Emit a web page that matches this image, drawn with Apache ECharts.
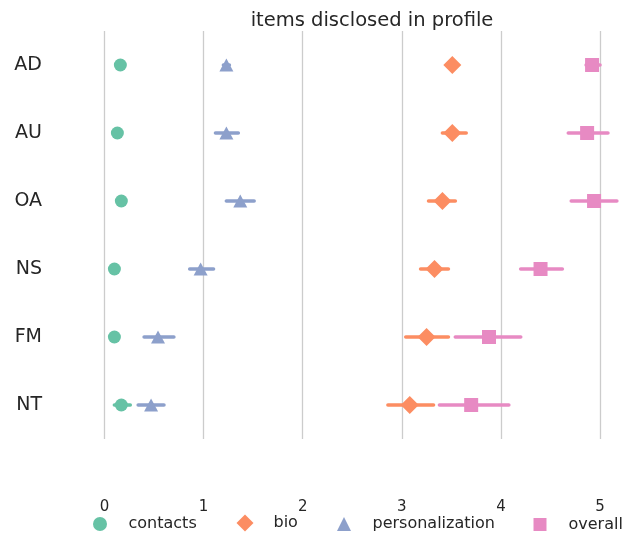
<!DOCTYPE html>
<html><head><meta charset="utf-8">
<script src="https://cdn.jsdelivr.net/npm/echarts@6/dist/echarts.min.js"></script>
<style>html,body{margin:0;padding:0;background:#fff}#c{width:631px;height:535px}</style>
</head><body><div id="c"></div>
<script>
const categories = ['AD','AU','OA','NS','FM','NT'];
const xTicks = [0,1,2,3,4,5];
const seriesNames = ['contacts','bio','personalization','overall'];
// point estimates
const contacts = [0.16, 0.13, 0.17, 0.10, 0.10, 0.17];
const bio = [3.51, 3.51, 3.41, 3.33, 3.25, 3.08];
const personalization = [1.23, 1.23, 1.37, 0.97, 0.54, 0.47];
const overall = [4.92, 4.87, 4.94, 4.40, 3.88, 3.70];
// confidence intervals [low, high]
const contactsCI = [[0.13,0.19],[0.10,0.16],[0.14,0.20],[0.08,0.12],[0.08,0.12],[0.10,0.26]];
const bioCI = [[3.47,3.55],[3.41,3.65],[3.27,3.54],[3.19,3.47],[3.04,3.47],[2.86,3.32]];
const personalizationCI = [[1.20,1.26],[1.12,1.35],[1.23,1.51],[0.86,1.10],[0.40,0.70],[0.34,0.60]];
const overallCI = [[4.86,5.00],[4.68,5.08],[4.71,5.17],[4.20,4.62],[3.54,4.20],[3.38,4.08]];

const colors = ['#66c2a5','#fc8d62','#8da0cb','#e78ac3'];
const symbols = ['circle','diamond','triangle','rect'];
const sizes = [13, [18,18], [14,13], 14];
const legendSizes = [14, 17, 14, 13];
const legendCenters = [100, 245, 344, 540];
const values = [contacts, bio, personalization, overall];
const cis = [contactsCI, bioCI, personalizationCI, overallCI];

const series = [];
seriesNames.forEach((name, k) => {
  series.push({
    type: 'custom', name: name + ' CI', z: 2, clip: false,
    encode: {x: [0,1], y: 2},
    data: cis[k].map((d, i) => [d[0], d[1], i]),
    renderItem: function (params, api) {
      const p1 = api.coord([api.value(0), api.value(2)]);
      const p2 = api.coord([api.value(1), api.value(2)]);
      return {type: 'line', shape: {x1: p1[0], y1: p1[1], x2: p2[0], y2: p2[1]},
        style: {stroke: colors[k], lineWidth: 3.6, lineCap: 'round'}};
    },
    silent: true
  });
  series.push({
    type: 'scatter', name: name, z: 3, clip: false,
    symbol: symbols[k], symbolSize: sizes[k],
    itemStyle: {color: colors[k], opacity: 1},
    data: values[k].map((v, i) => [v, i])
  });
});

const legends = seriesNames.map((name, k) => ({
  data: [{name: name, icon: symbols[k]}],
  padding: 0,
  left: legendCenters[k] - legendSizes[k]/2, top: 523 - legendSizes[k]/2,
  itemWidth: legendSizes[k], itemHeight: legendSizes[k],
  textStyle: {fontFamily: 'DejaVu Sans', fontSize: 16, color: '#262626',
    padding: [0, 0, 0, 23.5 - legendSizes[k]/2]},
  itemStyle: {color: colors[k]}
}));

const chart = echarts.init(document.getElementById('c'));
chart.setOption({
  animation: false,
  backgroundColor: '#fff',
  title: {text: 'items disclosed in profile', left: 367, top: 6, textAlign: 'center',
    textStyle: {fontFamily: 'DejaVu Sans', fontSize: 19.5, fontWeight: 'normal', color: '#262626'}},
  legend: legends,
  grid: {left: 104.5, right: 31, top: 31, bottom: 96},
  xAxis: {type: 'value', min: 0, max: 5, interval: 1,
    axisLine: {show: false}, axisTick: {show: false},
    splitLine: {show: true, lineStyle: {color: '#cccccc', width: 1.3}},
    axisLabel: {margin: 61, fontFamily: 'DejaVu Sans', fontSize: 15, color: '#262626',
      formatter: function (v) { return xTicks.indexOf(v) >= 0 ? String(v) : ''; }}
  },
  yAxis: {type: 'category', data: categories, inverse: true,
    axisLine: {show: false}, axisTick: {show: false}, splitLine: {show: false},
    axisLabel: {margin: 62.5, fontFamily: 'DejaVu Sans', fontSize: 19, color: '#262626'}},
  series: series
});
</script></body></html>
